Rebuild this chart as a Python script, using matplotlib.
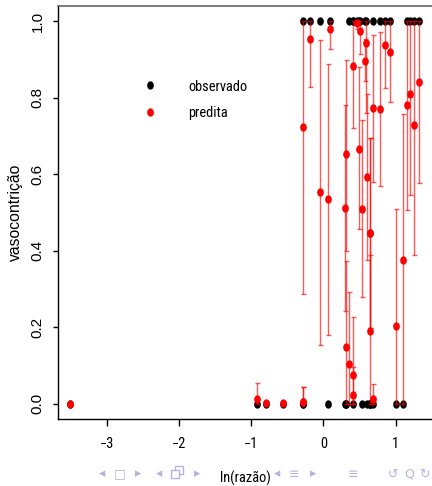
import numpy as np
import matplotlib
matplotlib.use("Agg")
import matplotlib.pyplot as plt
from matplotlib.path import Path
from matplotlib.lines import Line2D
from matplotlib.patches import Rectangle
from matplotlib.textpath import TextPath
from matplotlib.font_manager import FontProperties, fontManager

# ---- data ----
ln_razao = [-0.19, 0.09, 0.92, 0.41, 1.16, 1.25, -0.29, 0.53, -0.29, -0.80,
            -0.56, 1.01, 1.10, 0.85, 1.32, 0.50, 0.47, 0.35, 0.06, 0.59,
            0.69, 0.31, 0.30, 0.31, 0.58, 0.41, 0.41, 0.64, -0.05, -0.92,
            -0.29, -3.51, 0.60, 0.79, 0.69, 1.20, 0.64, 0.64, 0.49]
observado = [1, 1, 1, 1, 1, 1, 0, 0, 0, 0,
             0, 0, 0, 1, 1, 1, 1, 1, 0, 1,
             0, 0, 0, 0, 1, 0, 1, 0, 1, 0,
             1, 0, 0, 1, 1, 1, 0, 0, 1]
predita = [0.953, 0.981, 0.919, 0.075, 0.780, 0.729, 0.005, 0.509, 0.005, 0.001,
           0.001, 0.204, 0.375, 0.937, 0.840, 0.974, 0.995, 0.105, 0.535, 0.944,
           0.013, 0.149, 0.511, 0.652, 0.897, 0.024, 0.882, 0.446, 0.554, 0.011,
           0.723, 0.000, 0.593, 0.770, 0.773, 0.810, 0.446, 0.191, 0.667]
inferior = [0.827, 0.927, 0.790, 0.000, 0.506, 0.390, 0.000, 0.279, 0.000, 0.000,
            0.000, 0.000, 0.000, 0.826, 0.577, 0.915, 0.980, 0.000, 0.180, 0.760,
            0.000, 0.000, 0.242, 0.400, 0.843, 0.000, 0.720, 0.199, 0.154, 0.000,
            0.287, 0.000, 0.377, 0.569, 0.580, 0.547, 0.199, 0.000, 0.456]
superior = [1.000, 1.000, 1.000, 0.226, 1.000, 1.000, 0.043, 0.741, 0.043, 0.005,
            0.006, 0.508, 0.757, 1.000, 1.000, 1.000, 1.000, 0.291, 0.889, 1.000,
            0.051, 0.373, 0.782, 0.900, 0.955, 0.096, 1.000, 0.695, 0.952, 0.053,
            1.000, 0.000, 0.809, 0.971, 0.965, 1.000, 0.695, 0.390, 0.880]
xticks = [-3, -2, -1, 0, 1]
xticklabels = ["\u22123", "\u22122", "\u22121", "0", "1"]
yticks = [0.0, 0.2, 0.4, 0.6, 0.8, 1.0]
yticklabels = ["0.0", "0.2", "0.4", "0.6", "0.8", "1.0"]
legend_labels = ["observado", "predita"]

# ---- fonts: try a narrow sans for horizontal text ----
pref = ["Liberation Sans Narrow", "Liberation Sans", "Arimo", "Roboto",
        "Open Sans", "Noto Sans", "DejaVu Sans", "Lato", "Inter"]
narrow_file = None
cands = [f for f in fontManager.ttflist
         if f.style == "normal" and f.weight in (400, "normal", "regular")
         and (f.stretch not in ("normal", 500) or "Narrow" in f.name
              or "Condensed" in f.name)]
for nm in pref:
    for f in cands:
        if f.name.startswith(nm):
            narrow_file = f.fname
            break
    if narrow_file:
        break


def hprop(size=10.0):
    if narrow_file:
        return FontProperties(fname=narrow_file, size=size)
    return FontProperties(family="Liberation Sans", size=size)


# size such that "observado" is ~58 px wide (as in the reference), max 10.8pt
w_pt = TextPath((0, 0), "observado", prop=hprop(10.0)).get_extents().width
HSIZE = min(10.8, 10.0 * (58 * 72 / 100) / w_pt)
HP = hprop(HSIZE)
REG = "Liberation Sans"

# ---- figure ----
fig = plt.figure(figsize=(4.32, 4.86), dpi=100)
ax = fig.add_axes([58 / 432, 67 / 486, 374.4 / 432, 413 / 486])
ax.set_xlim(-3.68, 1.51)
ax.set_ylim(-0.04, 1.04)

t = np.linspace(0, 2 * np.pi, 60)
ell = Path(np.column_stack([0.8 * np.cos(t), np.sin(t)]), closed=True)

x = np.array(ln_razao)
p = np.array(predita)
lo = np.array(inferior)
hi = np.array(superior)

ax.plot(x, observado, ls="none", marker=ell, ms=6.0, color="black",
        mec="black", mew=0, zorder=2)
ax.errorbar(x, p, yerr=[p - lo, hi - p], fmt="none", ecolor=(1, 0, 0, 0.65),
            elinewidth=1.0, capsize=1.8, capthick=1.0, zorder=3)
ax.plot(x, p, ls="none", marker=ell, ms=6.0, color="red", mec="red",
        mew=0, zorder=4)

ax.set_xticks(xticks)
ax.set_xticklabels(xticklabels, fontproperties=HP)
ax.set_yticks(yticks)
ax.set_yticklabels(yticklabels, fontfamily=REG, fontsize=11, rotation=90,
                   va="center")
ax.tick_params(axis="x", length=5, width=1, pad=8.2, color="black")
ax.tick_params(axis="y", length=3.6, width=1, pad=6, color="black")

for s in ["left", "bottom"]:
    ax.spines[s].set_color("black")
    ax.spines[s].set_linewidth(1.0)
ax.spines["top"].set_color("#666666")
ax.spines["top"].set_linewidth(1.2)
ax.spines["right"].set_visible(False)

ax.set_xlabel("ln(razão)", fontproperties=HP, va="center")
ax.xaxis.set_label_coords(0.5, (419 - 478) / 413)
ax.set_ylabel("vasocontrição", fontfamily=REG, fontsize=11.3, va="center")
ax.yaxis.set_label_coords((15 - 58) / 374.4, 0.5)

handles = [Line2D([], [], ls="none", marker=ell, ms=6.0, color="black", mew=0),
           Line2D([], [], ls="none", marker=ell, ms=6.0, color="red", mew=0)]
ax.legend(handles, legend_labels, frameon=False, loc="upper left",
          bbox_to_anchor=(142.5 / 432, 1 - 79.5 / 486),
          bbox_transform=fig.transFigure, borderpad=0, borderaxespad=0,
          handlelength=1.0, handletextpad=2.17, labelspacing=0.86,
          prop=HP)

# beamer navigation symbols
NAVC = "#b4b4e4"
nav = [("\u25c2", 102), ("\u25a1", 120), ("\u25b8", 138),
       ("\u25c2", 159), ("\u25b8", 197),
       ("\u25c2", 277), ("\u2261", 294), ("\u25b8", 313),
       ("\u2261", 353), ("\u21ba", 393), ("Q", 409), ("\u21bb", 424)]
for ch, xp in nav:
    fig.text(xp / 432, 1 - 474 / 486, ch, color=NAVC, fontsize=9,
             ha="center", va="center", family=["DejaVu Sans"])
# "two joined squares" icon (no installed glyph) drawn as shapes
for (x0, y0), fc in [((175, 466), "none"), ((171, 470), "white")]:
    fig.patches.append(Rectangle((x0 / 432, 1 - (y0 + 8) / 486), 8 / 432,
                                 8 / 486, transform=fig.transFigure,
                                 facecolor=fc, edgecolor=NAVC, lw=1.0))

fig.savefig("out.png", dpi=100)
